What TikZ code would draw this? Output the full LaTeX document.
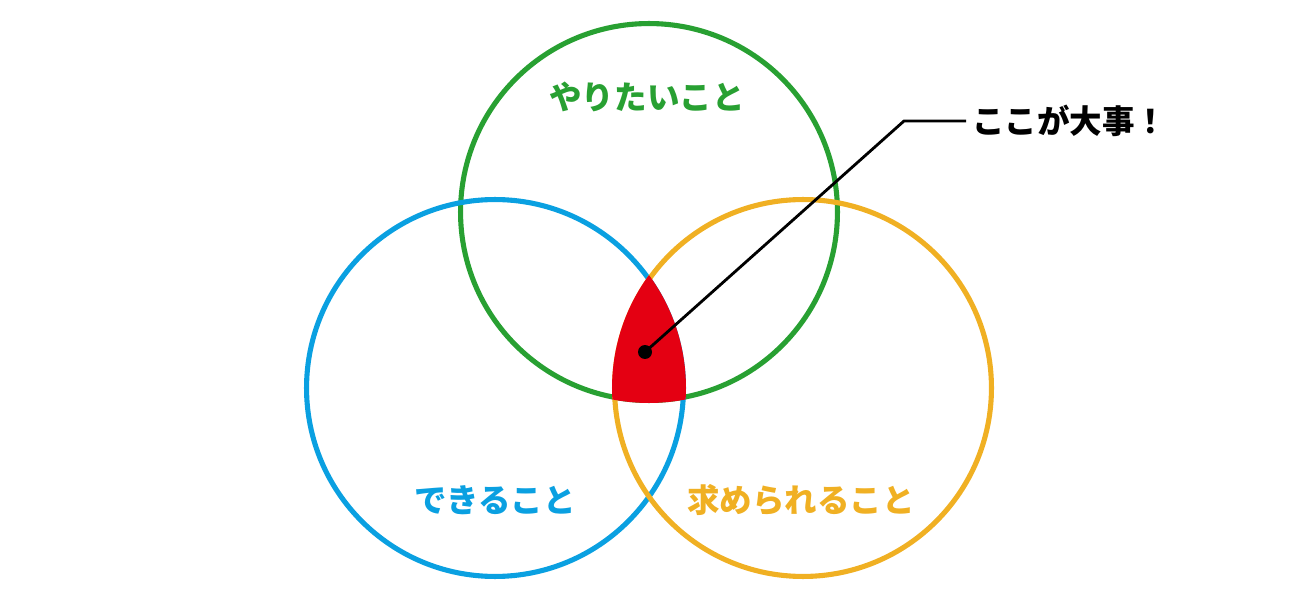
\documentclass[tikz,border=0pt]{standalone}
\usepackage{fontspec}
\newfontfamily\jp{Noto Sans CJK JP}
\usetikzlibrary{positioning}
\definecolor{wantgreen}{RGB}{40,160,50}
\definecolor{canblue}{RGB}{10,160,225}
\definecolor{needorange}{RGB}{240,176,35}
\definecolor{corered}{RGB}{228,0,18}
\begin{document}
\begin{tikzpicture}[x=0.02cm,y=-0.02cm,
    ring/.style={circle,draw=#1,line width=2.9pt,minimum size=7.54cm,inner sep=0pt},
    lbl/.style={text=#1,font=\jp\bfseries\fontsize{18.5pt}{20pt}\selectfont}]
   \useasboundingbox (0,0) rectangle (1299,601);
   % three circles
   \node[ring=wantgreen] (want) at (649,212) {};
   \node[ring=canblue] (can) at (495,388) {};
   \node[ring=needorange] (need) at (803,388) {};
   % the common part
   \begin{scope}
     \clip (want.center) circle (3.82cm);
     \clip (can.center) circle (3.82cm);
     \fill[corered] (need.center) circle (3.82cm);
   \end{scope}
   \node[lbl=wantgreen] (wanttxt) at (647,97) {やりたいこと};
   \node[lbl=canblue] (cantxt) at (495,500) {できること};
   \node[lbl=needorange] (needtxt) at (801,500) {求められること};
   % callout
   \node[circle,fill=black,minimum size=0.28cm,inner sep=0pt] (dot) at (645,352) {};
   \coordinate (bend) at (904,121);
   \node[lbl=black,anchor=west] (talk) at (966,121) {ここが大事！};
   \draw[line width=1.6pt] (dot.center) -- (bend) -- (talk.west);
\end{tikzpicture}
\end{document}
